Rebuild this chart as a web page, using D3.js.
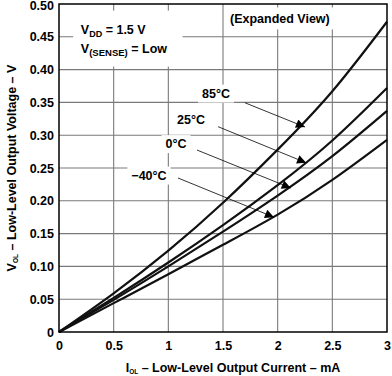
<!DOCTYPE html>
<html>
<head>
<meta charset="utf-8">
<script src="https://cdn.jsdelivr.net/npm/d3@7"></script>
<style>
  body { margin: 0; background: #fff; }
  svg { display: block; font-family: "Liberation Sans", Arial, sans-serif; font-weight: bold; }
</style>
</head>
<body>
<div id="chart"></div>
<script>
// Daten
const current = [0, 0.5, 1, 1.5, 2, 2.5, 3];           // I_OL in mA
const v85  = [0, 0.059, 0.124, 0.197, 0.278, 0.367, 0.473];
const v25  = [0, 0.052, 0.106, 0.163, 0.224, 0.292, 0.372];
const v0   = [0, 0.049, 0.100, 0.153, 0.208, 0.268, 0.337];
const vm40 = [0, 0.044, 0.088, 0.133, 0.179, 0.232, 0.293];

const xTicks = [0, 0.5, 1, 1.5, 2, 2.5, 3];
const xTickLabels = ["0", "0.5", "1", "1.5", "2", "2.5", "3"];
const yTicks = [0, 0.05, 0.10, 0.15, 0.20, 0.25, 0.30, 0.35, 0.40, 0.45, 0.50];
const yTickLabels = ["0", "0.05", "0.10", "0.15", "0.20", "0.25", "0.30", "0.35", "0.40", "0.45", "0.50"];

// Beschriftungen: Text, Textposition, Pfeil von -> nach (alles in Datenkoordinaten)
const tempLabels = ["85°C", "25°C", "0°C", "\u221240°C"];
const labelPos  = [[1.436, 0.364], [1.207, 0.323], [1.07, 0.287], [0.823, 0.239]];
const arrowFrom = [[1.70, 0.3495], [1.455, 0.313], [1.262, 0.2774], [1.088, 0.2348]];
const arrowTo   = [[2.25, 0.3125], [2.26, 0.258], [2.12, 0.2195], [1.966, 0.175]];

const drawChart = () => {
    const margin = {top: 4, right: 5, bottom: 44, left: 59};
    const width = 392;
    const height = 376;
    const innerWidth = width - margin.left - margin.right;
    const innerHeight = height - margin.top - margin.bottom;

    const svg = d3.select("#chart")
        .append("svg")
        .attr("width", width)
        .attr("height", height);

    const innerChart = svg.append("g")
        .attr("transform", `translate(${margin.left}, ${margin.top})`);

    const xScale = d3.scaleLinear().domain([0, 3]).range([0, innerWidth]);
    const yScale = d3.scaleLinear().domain([0, 0.5]).range([innerHeight, 0]);

    // Gitter
    innerChart.append("g")
        .selectAll("line")
        .data(xTicks.slice(1, -1))
        .join("line")
        .attr("x1", d => xScale(d)).attr("x2", d => xScale(d))
        .attr("y1", 0).attr("y2", innerHeight)
        .attr("stroke", "#7a7a7a").attr("stroke-width", 1.1);
    innerChart.append("g")
        .selectAll("line")
        .data(yTicks.slice(1, -1))
        .join("line")
        .attr("x1", 0).attr("x2", innerWidth)
        .attr("y1", d => yScale(d)).attr("y2", d => yScale(d))
        .attr("stroke", "#7a7a7a").attr("stroke-width", 1.1);

    // Achsen (nur Beschriftung)
    const bottomAxis = d3.axisBottom(xScale)
        .tickValues(xTicks)
        .tickFormat((d, i) => xTickLabels[i])
        .tickSize(0).tickPadding(9);
    innerChart.append("g")
        .attr("transform", `translate(0, ${innerHeight})`)
        .call(bottomAxis)
        .call(g => g.select(".domain").remove())
        .selectAll("text")
        .attr("font-size", 12.5).attr("font-weight", "bold")
        .attr("font-family", "Liberation Sans, Arial, sans-serif")
        .attr("fill", "#000");

    const leftAxis = d3.axisLeft(yScale)
        .tickValues(yTicks)
        .tickFormat((d, i) => yTickLabels[i])
        .tickSize(0).tickPadding(5);
    innerChart.append("g")
        .call(leftAxis)
        .call(g => g.select(".domain").remove())
        .selectAll("text")
        .attr("font-size", 12.5).attr("font-weight", "bold")
        .attr("font-family", "Liberation Sans, Arial, sans-serif")
        .attr("fill", "#000")
        // oberstes Label etwas nach unten, sonst wird es abgeschnitten
        .attr("dy", d => d === 0.5 ? "0.45em" : "0.32em");

    // Kurven
    const series = [v85, v25, v0, vm40];
    const lineGenerator = d3.line()
        .x((d, i) => xScale(current[i]))
        .y(d => yScale(d))
        .curve(d3.curveNatural);
    innerChart.append("g")
        .selectAll("path")
        .data(series)
        .join("path")
        .attr("d", d => lineGenerator(d))
        .attr("fill", "none")
        .attr("stroke", "#111")
        .attr("stroke-width", 2.2);

    // Pfeilspitze
    svg.append("defs").append("marker")
        .attr("id", "arrow")
        .attr("viewBox", "0 0 10 10")
        .attr("refX", 10).attr("refY", 5)
        .attr("markerWidth", 11).attr("markerHeight", 9)
        .attr("markerUnits", "userSpaceOnUse")
        .attr("orient", "auto")
        .append("path")
        .attr("d", "M0,0 L10,5 L0,10 Z")
        .attr("fill", "#000");

    innerChart.append("g")
        .selectAll("line")
        .data(arrowFrom)
        .join("line")
        .attr("x1", d => xScale(d[0])).attr("y1", d => yScale(d[1]))
        .attr("x2", (d, i) => xScale(arrowTo[i][0]))
        .attr("y2", (d, i) => yScale(arrowTo[i][1]))
        .attr("stroke", "#000").attr("stroke-width", 0.8)
        .attr("marker-end", "url(#arrow)");

    // Temperatur-Labels mit weißem Hintergrund
    const labelG = innerChart.append("g")
        .selectAll("g")
        .data(tempLabels)
        .join("g")
        .attr("transform", (d, i) => `translate(${xScale(labelPos[i][0])}, ${yScale(labelPos[i][1])})`);
    labelG.append("text")
        .text(d => d)
        .attr("text-anchor", "middle")
        .attr("dy", "0.35em")
        .attr("font-size", 12.5);
    labelG.each(function() {
        const g = d3.select(this);
        const bb = g.select("text").node().getBBox();
        g.insert("rect", "text")
            .attr("x", bb.x - 4).attr("y", bb.y - 2)
            .attr("width", bb.width + 8).attr("height", bb.height + 4)
            .attr("fill", "#fff");
    });

    // Bedingungen oben links
    const cond = innerChart.append("g");
    cond.append("rect")
        .attr("x", xScale(0.13)).attr("y", yScale(0.49))
        .attr("width", xScale(1.0)).attr("height", yScale(0.40) - yScale(0.49) - 3)
        .attr("fill", "#fff");
    const t1 = cond.append("text")
        .attr("x", xScale(0.2)).attr("y", yScale(0.454))
        .attr("font-size", 12.5);
    t1.append("tspan").text("V");
    t1.append("tspan").text("DD").attr("font-size", 9).attr("dy", 3);
    t1.append("tspan").text(" = 1.5 V").attr("dy", -3);
    const t2 = cond.append("text")
        .attr("x", xScale(0.2)).attr("y", yScale(0.425))
        .attr("font-size", 12.5);
    t2.append("tspan").text("V");
    t2.append("tspan").text("(SENSE)").attr("font-size", 9.5).attr("dy", 3);
    t2.append("tspan").text(" = Low").attr("dy", -3);

    // (Expanded View)
    const ev = innerChart.append("g")
        .attr("transform", `translate(${xScale(2.02)}, ${yScale(0.477)})`);
    ev.append("text")
        .text("(Expanded View)")
        .attr("text-anchor", "middle")
        .attr("dy", "0.35em")
        .attr("font-size", 12.5);
    const evb = ev.select("text").node().getBBox();
    ev.insert("rect", "text")
        .attr("x", evb.x - 6).attr("y", evb.y - 5)
        .attr("width", evb.width + 12).attr("height", evb.height + 8)
        .attr("fill", "#fff");

    // Rahmen
    innerChart.append("rect")
        .attr("x", 0).attr("y", 0)
        .attr("width", innerWidth).attr("height", innerHeight)
        .attr("fill", "none")
        .attr("stroke", "#000").attr("stroke-width", 1.5);

    // Achsentitel
    const xt = svg.append("text")
        .attr("x", margin.left + innerWidth / 2 + 10)
        .attr("y", 372)
        .attr("text-anchor", "middle")
        .attr("font-size", 12.5);
    xt.append("tspan").text("I");
    xt.append("tspan").text("OL").attr("font-size", 6.5).attr("dy", 2);
    xt.append("tspan").text(" \u2013 Low-Level Output Current \u2013 mA").attr("dy", -2);

    const yt = svg.append("text")
        .attr("transform", `translate(16, ${margin.top + innerHeight / 2}) rotate(-90)`)
        .attr("text-anchor", "middle")
        .attr("font-size", 12.5);
    yt.append("tspan").text("V");
    yt.append("tspan").text("OL").attr("font-size", 6.5).attr("dy", 2);
    yt.append("tspan").text(" \u2013 Low-Level Output Voltage \u2013 V").attr("dy", -2);
};

drawChart();
</script>
</body>
</html>
